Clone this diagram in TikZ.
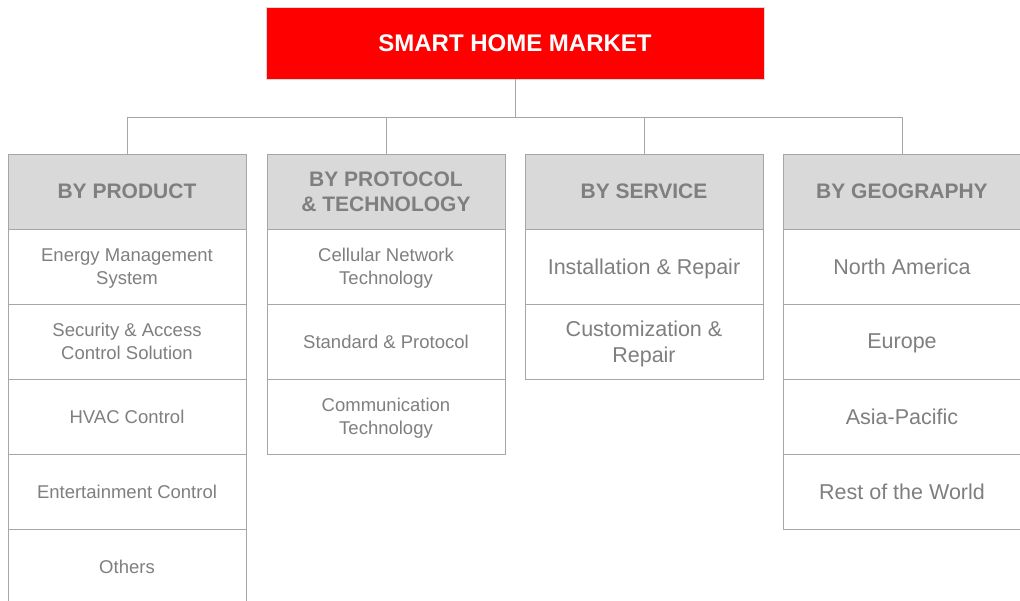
\documentclass[tikz,border=0pt]{standalone}
\usepackage{fontspec}
\setmainfont{Liberation Sans}
\definecolor{txtgray}{HTML}{7F7F7F}
\definecolor{hdrfill}{HTML}{D9D9D9}
\definecolor{linegray}{HTML}{A6A6A6}
\definecolor{titlered}{HTML}{FF0000}
\begin{document}
\begin{tikzpicture}[x=1pt,y=-1pt,
  titlebox/.style={draw=hdrfill, line width=0.8pt, fill=titlered, text=white,
    font=\fontsize{24}{28}\selectfont\bfseries, minimum width=498pt, minimum height=72pt,
    inner sep=0pt, text depth=0pt, anchor=center},
  hdrbox/.style={draw=linegray, line width=1pt, fill=hdrfill, text=txtgray,
    font=\fontsize{21}{25}\selectfont\bfseries, minimum width=238pt, minimum height=75pt,
    inner sep=0pt, text depth=0pt, align=center, anchor=center},
  cellbox/.style={draw=linegray, line width=1pt, fill=white, text=txtgray,
    font=\fontsize{18.5}{22.5}\selectfont, minimum width=238pt, minimum height=75pt,
    inner sep=0pt, text depth=0pt, align=center, anchor=center},
  bigcell/.style={cellbox, font=\fontsize{21.5}{26}\selectfont},
  conn/.style={draw=linegray, line width=1pt}
]
\useasboundingbox (0,0) rectangle (1020,600);
\clip (0,0) rectangle (1020,600);
\fill[white] (0,0) rectangle (1020,600);

\node[titlebox] (title) at (515,43) {SMART HOME MARKET};

% headers
\node[hdrbox] (h1) at (127,191.5) {BY PRODUCT};
\node[hdrbox] (h2) at (386,191.5) {BY PROTOCOL\\\& TECHNOLOGY};
\node[hdrbox] (h3) at (644,191.5) {BY SERVICE};
\node[hdrbox] (h4) at (902,191.5) {BY GEOGRAPHY};

% column 1
\node[cellbox] (c11) at (127,266.5) {Energy Management\\System};
\node[cellbox] (c12) at (127,341.5) {Security \& Access\\Control Solution};
\node[cellbox] (c13) at (127,416.5) {HVAC Control};
\node[cellbox] (c14) at (127,491.5) {Entertainment Control};
\node[cellbox] (c15) at (127,566.5) {Others};

% column 2
\node[cellbox] (c21) at (386,266.5) {Cellular Network\\Technology};
\node[cellbox] (c22) at (386,341.5) {Standard \& Protocol};
\node[cellbox] (c23) at (386,416.5) {Communication\\Technology};

% column 3
\node[bigcell] (c31) at (644,266.5) {Installation \& Repair};
\node[bigcell] (c32) at (644,341.5) {Customization \&\\Repair};

% column 4
\node[bigcell] (c41) at (902,266.5) {North America};
\node[bigcell] (c42) at (902,341.5) {Europe};
\node[bigcell] (c43) at (902,416.5) {Asia-Pacific};
\node[bigcell] (c44) at (902,491.5) {Rest of the World};

% connectors
\coordinate (bus) at (515,117);
\draw[conn] (title.south) -- (bus);
\draw[conn] (h1.north) |- (bus);
\draw[conn] (h4.north) |- (bus);
\draw[conn] (h2.north) -- (h2.north |- bus);
\draw[conn] (h3.north) -- (h3.north |- bus);
\end{tikzpicture}
\end{document}
